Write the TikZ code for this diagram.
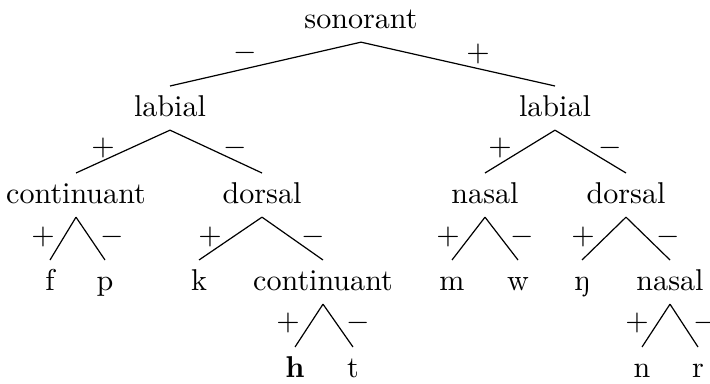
\documentclass[tikz,border=0pt]{standalone}
\newcommand\treeedge[2]{\draw[edge] ([yshift=-4.7pt]#1.base) -- ([yshift=9.97pt]#2.base);}
\begin{document}
\begin{tikzpicture}[x=0.3322pt,y=-0.3322pt,
  lab/.style={inner sep=0pt,anchor=base},
  sg/.style={inner sep=0pt,anchor=center},
  edge/.style={line width=0.4pt}]
\useasboundingbox (0,0) rectangle (710,383);
% nodes
\node[lab] (s)  at (361,28)  {sonorant};
\node[lab] (l1) at (170,116) {labial};
\node[lab] (l2) at (555,116) {labial};
\node[lab] (c1) at (76,203)  {continuant};
\node[lab] (d1) at (262,203) {dorsal};
\node[lab] (n1) at (485,203) {nasal};
\node[lab] (d2) at (626,203) {dorsal};
\node[lab] (f)  at (50,290)  {f};
\node[lab] (p)  at (105,290) {p};
\node[lab] (k)  at (199,290) {k};
\node[lab] (c2) at (323,290) {continuant};
\node[lab] (m)  at (452,290) {m};
\node[lab] (w)  at (518,290) {w};
\node[lab] (ng) at (582,290) {ŋ};
\node[lab] (n2) at (670,290) {nasal};
\node[lab] (h)  at (295,377) {\textbf{h}};
\node[lab] (t)  at (353,377) {t};
\node[lab] (n)  at (642,377) {n};
\node[lab] (r)  at (698,377) {r};
% edges
\treeedge{s}{l1}\treeedge{s}{l2}
\treeedge{l1}{c1}\treeedge{l1}{d1}
\treeedge{l2}{n1}\treeedge{l2}{d2}
\treeedge{c1}{f}\treeedge{c1}{p}
\treeedge{d1}{k}\treeedge{d1}{c2}
\treeedge{n1}{m}\treeedge{n1}{w}
\treeedge{d2}{ng}\treeedge{d2}{n2}
\treeedge{c2}{h}\treeedge{c2}{t}
\treeedge{n2}{n}\treeedge{n2}{r}
% signs
\node[sg] (sm)  at (245,53)  {$-$};
\node[sg] (sp)  at (478,54)  {$+$};
\node[sg] (l1p) at (103,148) {$+$};
\node[sg] (l1m) at (235,148) {$-$};
\node[sg] (l2p) at (500,148) {$+$};
\node[sg] (l2m) at (610,148) {$-$};
\node[sg] (c1p) at (43,237)  {$+$};
\node[sg] (c1m) at (112,237) {$-$};
\node[sg] (d1p) at (210,237) {$+$};
\node[sg] (d1m) at (313,237) {$-$};
\node[sg] (n1p) at (448,237) {$+$};
\node[sg] (n1m) at (522,237) {$-$};
\node[sg] (d2p) at (583,237) {$+$};
\node[sg] (d2m) at (668,237) {$-$};
\node[sg] (c2p) at (288,323) {$+$};
\node[sg] (c2m) at (358,323) {$-$};
\node[sg] (n2p) at (637,323) {$+$};
\node[sg] (n2m) at (705,323) {$-$};
\end{tikzpicture}
\end{document}
